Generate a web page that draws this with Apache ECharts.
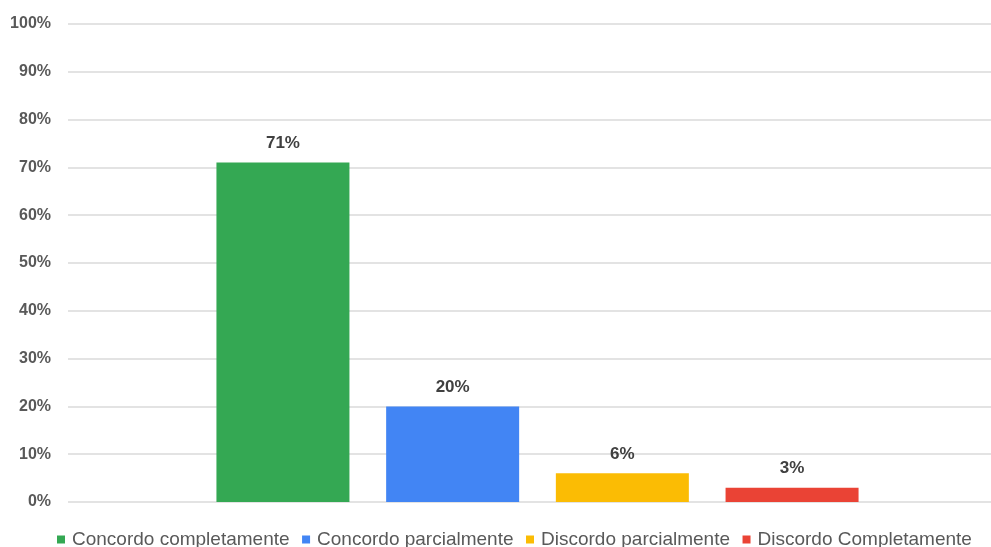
<!DOCTYPE html>
<html>
<head>
<meta charset="utf-8">
<script src="https://cdn.jsdelivr.net/npm/echarts@6/dist/echarts.min.js"></script>
<style>
  html, body { margin: 0; padding: 0; background: #ffffff; }
  #chart { width: 991px; height: 547px; }
</style>
</head>
<body>
<div id="chart"></div>
<script>
// Survey answers, share of respondents (%)
const categories = ['Resposta'];
const seriesNames = ['Concordo completamente', 'Concordo parcialmente', 'Discordo parcialmente', 'Discordo Completamente'];
const seriesValues = [71, 20, 6, 3];
const seriesColors = ['#34a853', '#4285f4', '#fbbc04', '#ea4335'];
const yTicks = { min: 0, max: 100, interval: 10 };

const fontFamily = 'Arial, "Liberation Sans", sans-serif';

const series = seriesNames.map((name, i) => ({
  name: name,
  type: 'bar',
  xAxisIndex: 1,
  yAxisIndex: 1,
  data: [seriesValues[i]],
  barWidth: 133,
  barGap: '27.6%',
  itemStyle: { color: seriesColors[i] },
  label: {
    show: true,
    position: 'top',
    distance: 11,
    formatter: p => Math.round(p.value) + '%',
    color: '#404040',
    fontWeight: 'bold',
    fontSize: 17,
    fontFamily: fontFamily
  }
}));

const hiddenCategoryAxis = (gridIndex) => ({
  type: 'category',
  gridIndex: gridIndex,
  data: categories,
  axisLine: { show: false },
  axisTick: { show: false },
  axisLabel: { show: false },
  splitLine: { show: false }
});

const chart = echarts.init(document.getElementById('chart'), null, { renderer: 'canvas' });
chart.setOption({
  animation: false,
  backgroundColor: '#ffffff',
  grid: [
    // gridlines and percentage labels
    { left: 68, right: 0, top: 24, bottom: 45, containLabel: false },
    // bars
    { left: 84, right: 0, top: 24, bottom: 45, containLabel: false }
  ],
  legend: {
    data: seriesNames,
    left: 52,
    top: 525,
    icon: 'rect',
    itemWidth: 8,
    itemHeight: 8,
    itemGap: 12.5,
    textStyle: {
      color: '#595959',
      fontSize: 19,
      fontFamily: fontFamily,
      padding: [0, 0, 0, 2]
    }
  },
  xAxis: [hiddenCategoryAxis(0), hiddenCategoryAxis(1)],
  yAxis: [
    {
      type: 'value',
      gridIndex: 0,
      min: yTicks.min,
      max: yTicks.max,
      interval: yTicks.interval,
      axisLine: { show: false },
      axisTick: { show: false },
      axisLabel: {
        formatter: '{value}%',
        margin: 17,
        color: '#595959',
        fontWeight: 'bold',
        fontSize: 16,
        fontFamily: fontFamily
      },
      splitLine: { lineStyle: { color: '#e3e3e3', width: 2 } }
    },
    {
      type: 'value',
      gridIndex: 1,
      min: yTicks.min,
      max: yTicks.max,
      interval: yTicks.interval,
      axisLine: { show: false },
      axisTick: { show: false },
      axisLabel: { show: false },
      splitLine: { show: false }
    }
  ],
  series: series
});
</script>
</body>
</html>
